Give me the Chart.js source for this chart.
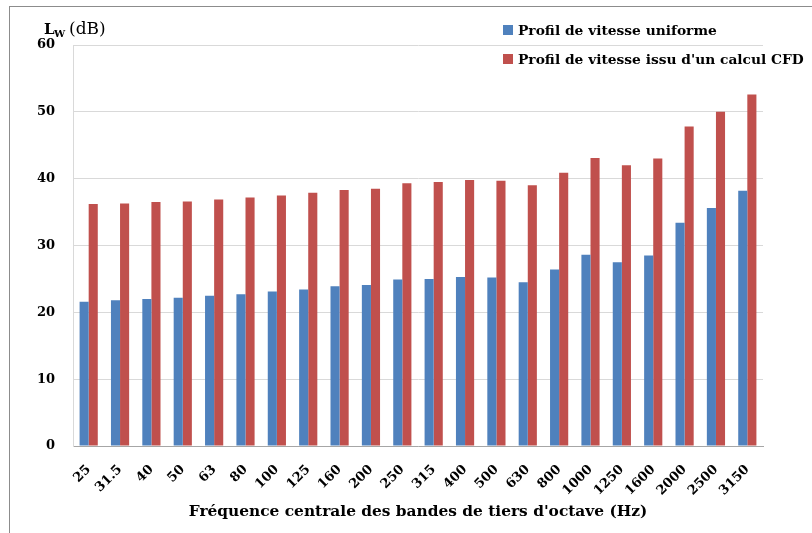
<!DOCTYPE html>
<html>
<head>
<meta charset="utf-8">
<script src="https://cdn.jsdelivr.net/npm/chart.js@4.4.1/dist/chart.umd.min.js"></script>
<style>
    body { margin: 0; background: #fff; }
    #frame { position: absolute; left: 9px; top: 6px; width: 900px; height: 600px; border: 1px solid #8c8c8c; }
    #wrap { position: absolute; left: 0; top: 0; width: 812px; height: 533px; }
</style>
</head>
<body>
<div id="frame"></div>
<div id="wrap"><canvas id="lwChart" width="812" height="533"></canvas></div>
<script>
// Third-octave band centre frequencies (Hz)
const frequencies = ['25', '31.5', '40', '50', '63', '80', '100', '125', '160', '200', '250',
    '315', '400', '500', '630', '800', '1000', '1250', '1600', '2000', '2500', '3150'];

// Sound power level LW (dB) for each velocity profile
const uniformProfile = [21.6, 21.8, 22.0, 22.2, 22.5, 22.7, 23.1, 23.4, 23.9, 24.1, 24.9,
    25.0, 25.3, 25.2, 24.5, 26.4, 28.6, 27.5, 28.5, 33.4, 35.6, 38.2];
const cfdProfile = [36.2, 36.3, 36.5, 36.6, 36.9, 37.2, 37.5, 37.9, 38.3, 38.5, 39.3,
    39.5, 39.8, 39.7, 39.0, 40.9, 43.1, 42.0, 43.0, 47.8, 50.0, 52.6];

const seriesLabels = ['Profil de vitesse uniforme', "Profil de vitesse issu d'un calcul CFD"];
const yTicks = [0, 10, 20, 30, 40, 50, 60];

const serif = "'DejaVu Serif', serif";

// y-axis title with subscript + legend drawn on top of the chart
const annotations = {
    id: 'annotations',
    afterDraw(chart) {
        const ctx = chart.ctx;
        ctx.save();
        ctx.fillStyle = '#000';
        ctx.textBaseline = 'alphabetic';
        ctx.textAlign = 'left';
        ctx.font = 'bold 15px ' + serif;
        ctx.fillText('L', 44, 34);
        ctx.font = 'bold 10px ' + serif;
        ctx.fillText('W', 54, 37);
        ctx.font = '17px ' + serif;
        ctx.fillText('(dB)', 69, 34);

        ctx.font = 'bold 13.8px ' + serif;
        ctx.textBaseline = 'middle';
        chart.data.datasets.forEach(function (ds, i) {
            const y = 30 + i * 29;
            ctx.fillStyle = ds.backgroundColor;
            ctx.fillRect(503, y - 5, 10, 10);
            ctx.fillStyle = '#000';
            ctx.fillText(ds.label, 518, y + 1);
        });
        ctx.restore();
    }
};

const ctx = document.getElementById('lwChart').getContext('2d');
new Chart(ctx, {
    type: 'bar',
    data: {
        labels: frequencies,
        datasets: [{
            label: seriesLabels[0],
            data: uniformProfile,
            backgroundColor: '#4f81bd'
        }, {
            label: seriesLabels[1],
            data: cfdProfile,
            backgroundColor: '#c0504d'
        }]
    },
    options: {
        responsive: false,
        animation: false,
        layout: { padding: { left: 0, right: 49, top: 45, bottom: 0 } },
        datasets: {
            bar: { categoryPercentage: 0.58, barPercentage: 1.0 }
        },
        plugins: {
            legend: { display: false },
            tooltip: { enabled: false }
        },
        scales: {
            x: {
                grid: { display: false, drawTicks: false },
                border: { color: '#a6a6a6', width: 1 },
                ticks: {
                    color: '#000',
                    font: { family: serif, size: 13, weight: 'bold' },
                    maxRotation: 45,
                    minRotation: 45,
                    padding: 16
                },
                title: {
                    display: true,
                    text: "Fréquence centrale des bandes de tiers d'octave (Hz)",
                    color: '#000',
                    font: { family: serif, size: 15.4, weight: 'bold' },
                    padding: { top: 0, bottom: 12 }
                },
                afterFit: function (scale) { scale.height = 87; }
            },
            y: {
                min: yTicks[0],
                max: yTicks[yTicks.length - 1],
                afterBuildTicks: function (scale) {
                    scale.ticks = yTicks.map(function (v) { return { value: v }; });
                },
                grid: { color: '#d9d9d9', drawTicks: false },
                border: { color: '#d9d9d9' },
                ticks: {
                    color: '#000',
                    font: { family: serif, size: 13, weight: 'bold' },
                    padding: 18
                },
                afterFit: function (scale) { scale.width = 73; }
            }
        }
    },
    plugins: [annotations]
});
</script>
</body>
</html>
